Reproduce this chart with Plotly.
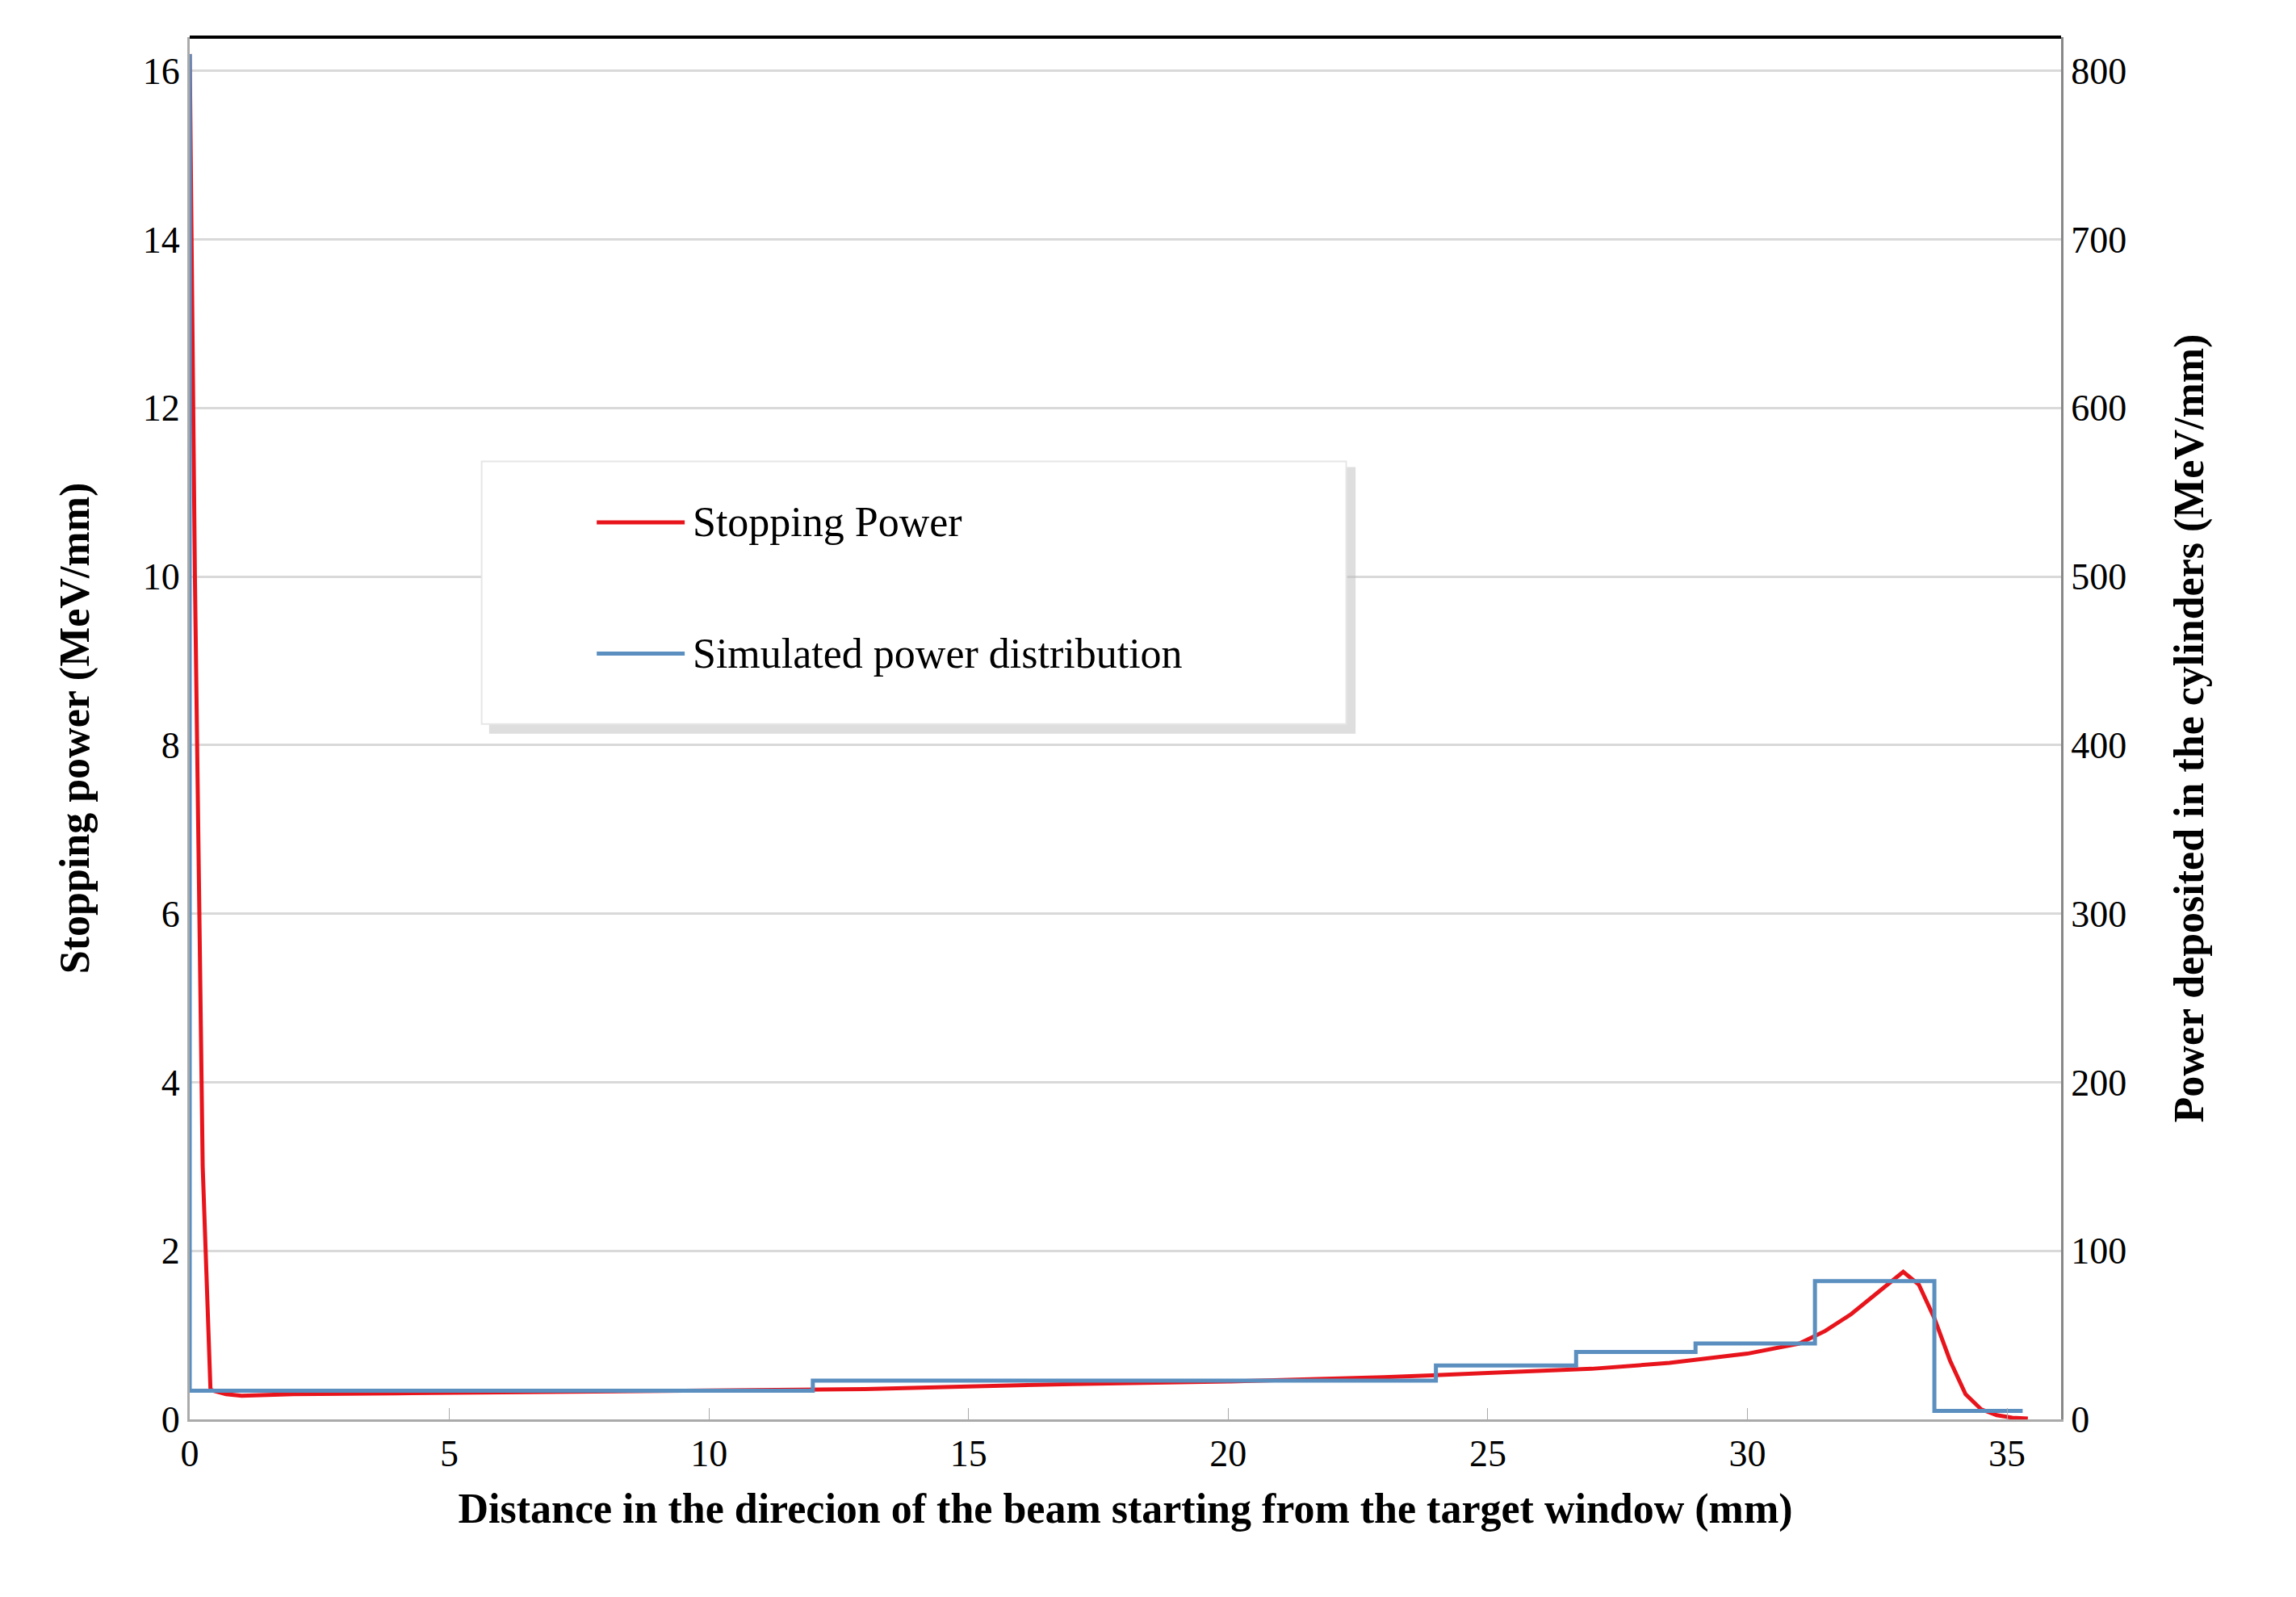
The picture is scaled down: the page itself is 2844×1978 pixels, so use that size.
import plotly.graph_objects as go

sp_x = [0, 0.1, 0.25, 0.4, 0.7, 1.0, 1.5, 2, 4, 6, 8, 10, 12, 13, 15, 17, 20, 23, 25, 27, 28.5, 30, 31, 31.5, 32, 32.5, 33, 33.3, 33.6, 33.9, 34.2, 34.5, 34.8, 35.1, 35.4]
sp_y = [16.2, 10.0, 3.0, 0.35, 0.3, 0.28, 0.29, 0.3, 0.31, 0.32, 0.33, 0.34, 0.35, 0.36, 0.39, 0.42, 0.45, 0.5, 0.55, 0.6, 0.67, 0.78, 0.9, 1.05, 1.25, 1.5, 1.75, 1.6, 1.2, 0.7, 0.3, 0.12, 0.05, 0.02, 0.01]

pd_x = [0, 0, 0, 12, 24, 26.7, 29, 31.3, 33.6, 35.3]
pd_y = [17, 810, 17, 23, 32, 40, 45, 82, 5, 5]

blue = "#5b8fc0"
red = "#e8141c"
font = "Liberation Serif"

fig = go.Figure()
fig.add_trace(go.Scatter(x=sp_x, y=sp_y, mode="lines", line=dict(color=red, width=5), name="Stopping Power"))
fig.add_trace(go.Scatter(x=pd_x, y=pd_y, mode="lines", line=dict(color=blue, width=5, shape="hv"), name="Simulated power distribution", yaxis="y2"))

fig.update_layout(
    width=2844, height=1978, showlegend=False,
    paper_bgcolor="white", plot_bgcolor="white",
    margin=dict(l=227, r=299, t=38, b=228),
    font=dict(family=font, size=46, color="black"),
    xaxis=dict(range=[0, 36.04], tickvals=[0, 5, 10, 15, 20, 25, 30, 35], ticks="inside", ticklen=14,
               tickcolor="#aaa", showline=True, linecolor="#aaa", linewidth=3, showgrid=False, zeroline=False,
               title=dict(text="<b>Distance in the direcion of the beam starting from the target window (mm)</b>", font=dict(size=52), standoff=25)),
    yaxis=dict(range=[0, 16.4], tickvals=list(range(0, 17, 2)), showgrid=True, gridcolor="#d9d9d9", gridwidth=3,
               showline=True, linecolor="#aaa", linewidth=3, zeroline=False, ticks="",
               title=dict(text="<b>Stopping power (MeV/mm)</b>", font=dict(size=52), standoff=50)),
    yaxis2=dict(range=[0, 820], tickvals=list(range(0, 801, 100)), overlaying="y", side="right", showgrid=False,
                showline=True, linecolor="#888", linewidth=3, zeroline=False, ticks="",
                title=dict(text="<b>Power deposited in the cylinders (MeV/mm)</b>", font=dict(size=52), standoff=60)),
)
fig.add_shape(type="line", xref="paper", yref="paper", x0=0, x1=1, y0=1, y1=1, line=dict(color="black", width=4))
fig.add_shape(type="rect", xref="paper", yref="paper", x0=0.160, x1=0.623, y0=0.496, y1=0.689, fillcolor="#bdbdbd", line=dict(width=0), opacity=0.5)
fig.add_shape(type="rect", xref="paper", yref="paper", x0=0.156, x1=0.618, y0=0.503, y1=0.693, fillcolor="white", line=dict(color="#e6e6e6", width=2))
for yy, col, txt in [(0.649, red, "Stopping Power"), (0.554, blue, "Simulated power distribution")]:
    fig.add_shape(type="line", xref="paper", yref="paper", x0=0.2175, x1=0.2645, y0=yy, y1=yy, line=dict(color=col, width=5))
    fig.add_annotation(xref="paper", yref="paper", x=0.268, y=yy, text=txt, showarrow=False, xanchor="left",
                       font=dict(size=52, family=font))
fig.write_html("out.html")
